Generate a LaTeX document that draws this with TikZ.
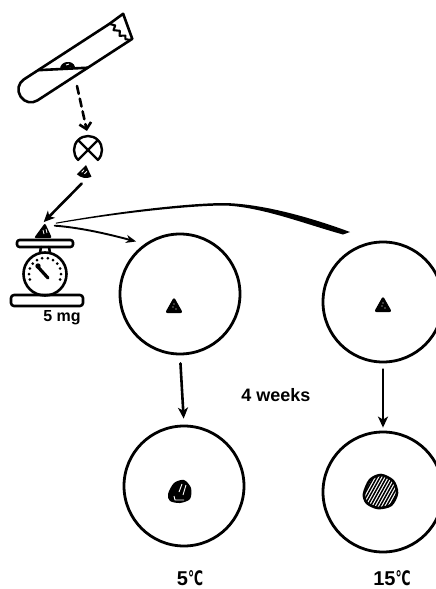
\documentclass[tikz,border=0pt]{standalone}
\usepackage{fontspec}
\setmainfont{Liberation Sans}
\newfontfamily\degfont{DejaVu Sans}
\usetikzlibrary{arrows.meta,calc}
\newcommand{\celsius}{\scalebox{0.62}[1]{\degfont ℃}}
\begin{document}
\begin{tikzpicture}[x=1pt,y=-1pt,
  ink/.style={line width=2.6pt,line join=round,line cap=round},
  dish/.style={circle,draw,line width=2.8pt,minimum size=120pt,inner sep=0pt},
  flow/.style={ink,-{Stealth[length=11pt,width=10pt,inset=3pt]}},
  txt/.style={inner sep=0pt},
  spot/.style={circle,minimum size=16pt,inner sep=0pt},
  crumb/.pic={
    \fill[rounded corners=2.5pt] (0,-9) -- (9,7) -- (-9,7) -- cycle;
    \fill[white] (-1,1) circle (0.7) (2,3) circle (0.7) (0,-2) circle (0.6);
  },
]
\useasboundingbox (0,0) rectangle (436,589);

% broken test tube with the sample
\begin{scope}[shift={(29,91)},rotate=33]
  \draw[ink,rounded corners=12pt] (104,-12.5) -- (-10,-12.5) -- (-10,12.5) -- (115,12.5);
  \draw[ink] (104,-12.5) -- (121,-13.5) -- (115,12.5);
  \draw[line width=2.1pt,line join=round] (104,-12.5) -- (108,-8) -- (104,-5) -- (109,-1)
        -- (106,3) -- (111,6) -- (109,9) -- (113,12.5);
  \draw[ink] (19,-12.5) -- (62,12.5);
\end{scope}
\fill (60,69) .. controls (60,61) and (73,59) .. (75,67) -- cycle;
\draw[white,line width=0.8pt] (66,65) -- (69,64);
\coordinate (tubeout) at (77,86);

% quartered tissue
\node[spot,minimum size=28pt] (qt) at (88,150) {};
\draw[ink,dash pattern=on 8pt off 5pt,-{Straight Barb[length=6pt,width=12pt]},shorten >=5pt]
  (tubeout) -- (qt.north);
\begin{scope}[shift={(qt.center)},yscale=-1]
  \draw[line width=2.4pt,line join=round]
     (0,0) -- (45:14) arc[start angle=45,end angle=135,radius=14] -- cycle
     (0,0) -- (135:14) arc[start angle=135,end angle=225,radius=14] -- cycle
     (0,0) -- (-45:14) arc[start angle=-45,end angle=45,radius=14] -- cycle;
\end{scope}

% the cut quarter
\node[spot,minimum size=14pt] (qp) at (86,172) {};
\begin{scope}[shift={(86,165)},yscale=-1,rotate=10]
  \fill (0,0) -- (235:13) arc[start angle=235,end angle=305,radius=13] -- cycle;
  \draw[white,line width=0.8pt] (-3,-8) -- (-1,-5) (0,-9) -- (2,-6);
\end{scope}

% piece on the balance
\node[spot] (pc) at (43,231) {};
\fill[rounded corners=2pt] (45,223) -- (52,238) -- (34,238) -- cycle;
\draw[white,line width=0.8pt] (43,230) -- (44,234) (46,229) -- (47,233);
\draw[flow,shorten <=6pt,shorten >=1pt] (qp.south) -- (pc.north);

% balance
\draw[ink,rounded corners=2.5pt] (17,240) rectangle (73,247);
\draw[ink] (41,247) -- (40,253) (49,247) -- (50,253);
\node[circle,draw,line width=2.6pt,minimum size=43pt,inner sep=0pt] (dial) at (45,274) {};
\foreach \t in {-20,0,...,200}
  \fill ({45+16*cos(\t)},{274-16*sin(\t)}) circle (1.5);
\draw[line width=3.2pt,line cap=round] (38,267) -- (48,278);
\fill (38,266) circle (2.7);
\draw[ink,rounded corners=3pt] (11,295) rectangle (83,306);
\node[txt,font=\bfseries\fontsize{16}{16}\selectfont] (mg) at (62,318) {5 mg};

% dishes
\node[dish] (d1) at (180,294) {};
\node[dish] (d2) at (383,302) {};
\node[dish] (d3) at (184,486) {};
\node[dish] (d4) at (383,492) {};

\pic at (174,306) {crumb};
\pic at (383,305) {crumb};

% grown pieces after incubation
\fill plot[smooth cycle] coordinates {(168,494) (174,483) (184,480) (191,488) (190,499) (180,503) (170,501)};
\draw[white,line width=0.9pt] (182,484) -- (179,492) (186,485) -- (183,495) (174,496) -- (175,500) -- (184,500);
\begin{scope}
  \path[clip] plot[smooth cycle] coordinates {(364,494) (370,480) (381,475) (393,481) (397,493) (391,505) (378,508) (367,503)};
  \foreach \k in {340,343.2,...,420}
    \draw[line width=1.5pt] (\k,515) -- (\k+25,470);
\end{scope}
\draw[line width=2.6pt] plot[smooth cycle] coordinates {(364,494) (370,480) (381,475) (393,481) (397,493) (391,505) (378,508) (367,503)};

% transfers to the dishes
\draw[ink,line width=1.9pt,-{Stealth[length=10pt,width=8pt,inset=3pt]},shorten <=6pt,shorten >=9pt]
  (pc.north east) .. controls (85,228) and (115,236) .. (d1.125);
\coordinate (tipB) at (350,232);
\fill ($(pc.north east)+(7,-2.5)$) .. controls (120,211) and (190,203) .. (225,203)
   .. controls (265,204) and (315,219) .. (tipB) -- (343,234.5)
   .. controls (305,224) and (262,207) .. (225,205.5)
   .. controls (190,205.5) and (120,213) .. ($(pc.north east)+(7,-1.5)$) -- cycle;

\draw[flow,shorten <=8pt,shorten >=6pt] (d1.south) -- (d3.north);
\draw[flow,shorten <=6pt,shorten >=3pt] (d2.south) -- (d4.north);

\node[txt,font=\bfseries\fontsize{18}{18}\selectfont] (wk) at (276,395) {4 weeks};
\node[txt,font=\bfseries\fontsize{20}{20}\selectfont] (t5) at (190,578) {5\celsius};
\node[txt,font=\bfseries\fontsize{20}{20}\selectfont] (t15) at (392,578) {15\celsius};
\end{tikzpicture}
\end{document}
